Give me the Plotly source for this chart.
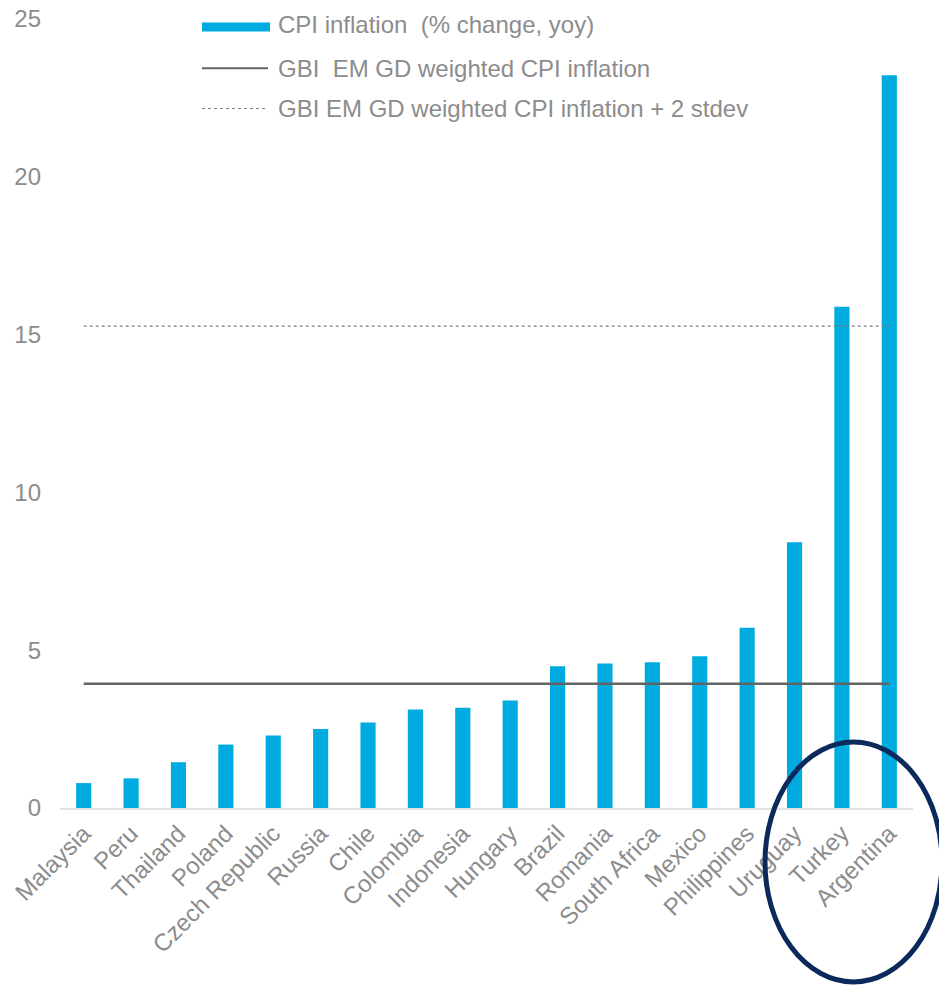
import plotly.graph_objects as go

# --- data -------------------------------------------------------------
countries = ["Malaysia", "Peru", "Thailand", "Poland", "Czech Republic", "Russia",
             "Chile", "Colombia", "Indonesia", "Hungary", "Brazil", "Romania",
             "South Africa", "Mexico", "Philippines", "Uruguay", "Turkey", "Argentina"]
cpi_yoy = [0.79, 0.94, 1.45, 2.01, 2.30, 2.50, 2.71, 3.12, 3.18, 3.41,
           4.49, 4.58, 4.62, 4.81, 5.71, 8.42, 15.88, 23.22]
weighted_cpi = 3.94
weighted_cpi_2sd = 15.27
y_ticks = [0, 5, 10, 15, 20, 25]

legend_labels = ["CPI inflation  (% change, yoy)",
                 "GBI  EM GD weighted CPI inflation",
                 "GBI EM GD weighted CPI inflation + 2 stdev"]

# --- styling ------------------------------------------------------------
W, H = 939, 985
ML, MR, MT, MB = 60, 26, 19, 177
BAR = "#00acdf"
TXT = "#8c8c8c"
MEAN = "#646464"
SD = "#808080"
NAVY = "#0b2a5b"
FONT = "Arial, Liberation Sans, sans-serif"
FS = 24

pw, ph = W - ML - MR, H - MT - MB


def px(x):
    return (x - ML) / pw


def py(y):
    return (H - MB - y) / ph


fig = go.Figure()

fig.add_trace(go.Bar(x=countries, y=cpi_yoy, marker=dict(color=BAR, line=dict(width=0)),
                     showlegend=False, hoverinfo="x+y"))

fig.add_trace(go.Scatter(x=[countries[0], countries[-1]], y=[weighted_cpi] * 2,
                         mode="lines", line=dict(color=MEAN, width=2.5),
                         showlegend=False))
fig.add_trace(go.Scatter(x=[countries[0], countries[-1]], y=[weighted_cpi_2sd] * 2,
                         mode="lines", line=dict(color=SD, width=1.2, dash="dot"),
                         showlegend=False))

shapes = []
annotations = []

# legend drawn as swatches + text at the top of the plot
rows_y = [24, 68, 109]
shapes.append(dict(type="rect", xref="paper", yref="paper",
                   x0=px(202), x1=px(270), y0=py(31.5), y1=py(22.5),
                   fillcolor=BAR, line=dict(width=0)))
shapes.append(dict(type="line", xref="paper", yref="paper",
                   x0=px(202), x1=px(268), y0=py(68.3), y1=py(68.3),
                   line=dict(color=MEAN, width=2)))
shapes.append(dict(type="line", xref="paper", yref="paper",
                   x0=px(202), x1=px(268), y0=py(108.5), y1=py(108.5),
                   line=dict(color=SD, width=1, dash="dot")))
for label, ry in zip(legend_labels, rows_y):
    annotations.append(dict(text=label, xref="paper", yref="paper",
                            x=px(276), y=py(ry), xanchor="left", yanchor="middle",
                            showarrow=False, font=dict(family=FONT, size=FS, color=TXT)))

# highlight ring around the highest-inflation names
shapes.append(dict(type="circle", xref="paper", yref="paper",
                   x0=px(765), x1=px(942), y0=py(982), y1=py(742),
                   line=dict(color=NAVY, width=5), layer="above"))

fig.update_layout(
    width=W, height=H,
    margin=dict(l=ML, r=MR, t=MT, b=MB, pad=0),
    paper_bgcolor="white", plot_bgcolor="white",
    bargap=0.68,
    font=dict(family=FONT, color=TXT, size=FS),
    shapes=shapes, annotations=annotations,
    showlegend=False,
)
fig.update_xaxes(showgrid=False, showline=True, linecolor="#e3e3e3", linewidth=2,
                 ticks="", tickangle=-45, tickfont=dict(family=FONT, size=FS, color=TXT),
                 zeroline=False, automargin=False)
fig.update_yaxes(range=[0, 25], tickvals=y_ticks, showgrid=False, showline=False,
                 zeroline=False, ticks="", ticklabelstandoff=18, automargin=False,
                 tickfont=dict(family=FONT, size=FS, color=TXT))

fig.write_html("out.html")
